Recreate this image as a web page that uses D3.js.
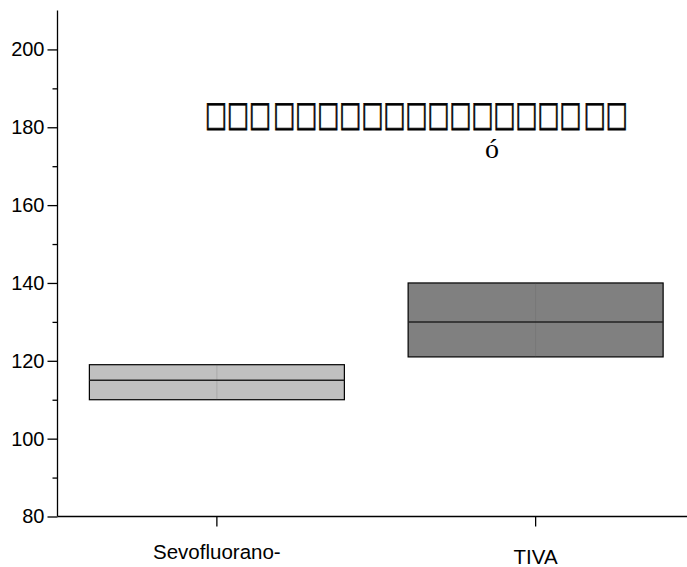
<!DOCTYPE html>
<html>
<head>
<meta charset="utf-8">
<script src="https://cdn.jsdelivr.net/npm/d3@7"></script>
<style>
  html, body { margin: 0; padding: 0; background: #fff; }
  svg { display: block; }
</style>
</head>
<body>
<svg id="chart" width="687" height="567"></svg>
<script>
// ---- data ----
const categories = ["Sevofluorano-", "TIVA"];
const q1Values = [110, 121];
const medianValues = [115, 130];
const q3Values = [119, 140];
const boxColors = ["#c0c0c0", "#808080"];
const yMajorTicks = [80, 100, 120, 140, 160, 180, 200];
const yMinorTicks = [90, 110, 130, 150, 170, 190];
const titleText = "\u25A1\u25A1\u25A1\u200A\u25A1\u25A1\u25A1\u25A1\u25A1\u25A1\u25A1\u25A1\u25A1\u25A1\u25A1\u25A1\u25A1\u25A1\u200A\u25A1\u25A1";
const subtitleText = "ó";

const svg = d3.select("#chart");
const x0 = 57.5, xEnd = 695, yBottom = 516.5;

const y = d3.scaleLinear().domain([80, 210]).range([yBottom, 10.5]);
const x = d3.scaleBand().domain(categories).range([x0, xEnd]).padding(0);
const boxW = x.bandwidth() * 0.8;

// y axis
const yAxis = d3.axisLeft(y).tickValues(yMajorTicks).tickSize(10).tickPadding(3).tickFormat(d3.format("d"));
const gy = svg.append("g").attr("transform", `translate(${x0},0)`).call(yAxis);
gy.select(".domain").attr("stroke", "#000").attr("stroke-width", 1.3).attr("d", `M-0,${y(210)}V${yBottom}`);
gy.selectAll(".tick line").attr("stroke", "#000").attr("stroke-width", 1.3);
gy.selectAll(".tick text").attr("font-family", "Liberation Sans, Arial, sans-serif").attr("font-size", 20).attr("fill", "#000");
const gyMinor = svg.append("g").attr("transform", `translate(${x0},0)`)
  .call(d3.axisLeft(y).tickValues(yMinorTicks).tickSize(5).tickFormat(""));
gyMinor.select(".domain").remove();
gyMinor.selectAll(".tick line").attr("stroke", "#000").attr("stroke-width", 1.3);

// x axis
const xAxis = d3.axisBottom(x).tickSize(10).tickFormat("");
const gx = svg.append("g").attr("transform", `translate(0,${yBottom})`).call(xAxis);
gx.select(".domain").attr("stroke", "#000").attr("stroke-width", 1.3).attr("d", `M${x0},0H${xEnd}`);
gx.selectAll(".tick line").attr("stroke", "#000").attr("stroke-width", 1.3);

const labelBaselines = [559, 564];
svg.append("g").selectAll("text").data(categories).join("text")
  .attr("x", d => x(d) + x.bandwidth() / 2)
  .attr("y", (d, i) => labelBaselines[i])
  .attr("text-anchor", "middle")
  .attr("font-family", "Liberation Sans, Arial, sans-serif")
  .attr("font-size", 20.5)
  .attr("fill", "#000")
  .text(d => d);

// boxes
const boxes = svg.append("g").selectAll("g").data(categories).join("g");
boxes.append("rect")
  .attr("x", d => x(d) + x.bandwidth() / 2 - boxW / 2)
  .attr("y", (d, i) => y(q3Values[i]))
  .attr("width", boxW)
  .attr("height", (d, i) => y(q1Values[i]) - y(q3Values[i]))
  .attr("fill", (d, i) => boxColors[i])
  .attr("stroke", "#000")
  .attr("stroke-width", 1.2);
boxes.append("line")
  .attr("x1", d => x(d) + x.bandwidth() / 2)
  .attr("x2", d => x(d) + x.bandwidth() / 2)
  .attr("y1", (d, i) => y(q3Values[i]))
  .attr("y2", (d, i) => y(q1Values[i]))
  .attr("stroke", "#555")
  .attr("stroke-opacity", 0.2)
  .attr("stroke-width", 1);
boxes.append("line")
  .attr("x1", d => x(d) + x.bandwidth() / 2 - boxW / 2)
  .attr("x2", d => x(d) + x.bandwidth() / 2 + boxW / 2)
  .attr("y1", (d, i) => y(medianValues[i]))
  .attr("y2", (d, i) => y(medianValues[i]))
  .attr("stroke", "#222")
  .attr("stroke-width", 1.5);

// title (glyphs that the original could not render, shown as boxes)
const titleG = svg.append("g");
const title = titleG.append("text")
  .attr("x", 0)
  .attr("y", 0)
  .attr("font-family", "DejaVu Sans, sans-serif")
  .attr("font-size", 100)
  .attr("fill", "#000")
  .attr("stroke", "#000")
  .text(titleText);
const natural = title.node().getComputedTextLength();
const fs = 100 * 423 / natural;
title.attr("font-size", fs).attr("stroke-width", 0.3 * 35 / fs);
titleG.attr("transform", `translate(205,125.5) scale(1,${35 / fs})`);

svg.append("text")
  .attr("x", 492)
  .attr("y", 158)
  .attr("text-anchor", "middle")
  .attr("font-family", "Liberation Serif, Times New Roman, serif")
  .attr("font-size", 28)
  .attr("fill", "#000")
  .text(subtitleText);
</script>
</body>
</html>
